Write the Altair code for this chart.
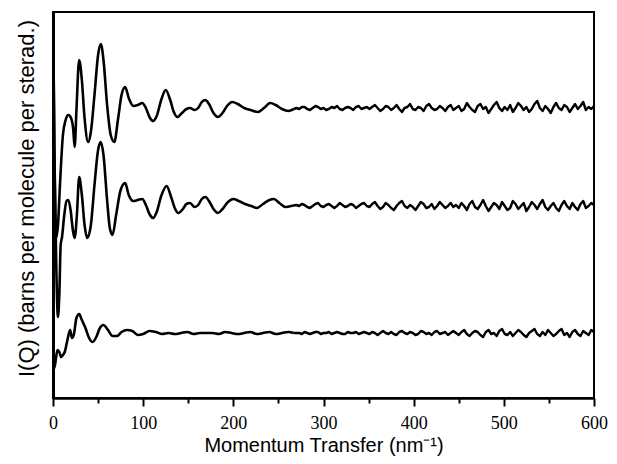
import altair as alt
import pandas as pd

# ---- top curve (smooth part) ----
top_q = [0, 1.5, 3.5, 5.5, 8, 11, 14, 17, 20, 22.5, 24, 26, 29, 32, 35, 39, 42, 46, 50, 53,
         56, 60, 64, 68, 72, 76, 80, 84, 89, 94, 99, 103, 107, 111, 115, 120, 125, 130, 134, 138,
         143, 148, 152, 157, 161, 165, 169, 173, 178, 183, 188, 193, 199, 205, 212, 219, 227, 234, 241, 247,
         254, 261, 267]
top_i = [400, 248, 160, 173, 218, 263, 278, 283, 280, 268, 251, 288, 338, 318, 280, 256, 266, 303, 343, 354,
         338, 293, 263, 256, 278, 303, 311, 300, 292, 293, 295, 290, 281, 277, 282, 298, 308, 298, 286, 281,
         285, 289, 290, 288, 290, 296, 298, 294, 285, 281, 285, 292, 296, 294, 290, 288, 286, 290, 295, 293,
         289, 287, 289]

# ---- middle curve (smooth part) ----
mid_q = [0, 1.5, 3.5, 5.5, 7, 8.5, 10, 12.5, 15, 17, 19.5, 22, 24, 26.5, 29, 32, 35, 38, 42, 46,
         50, 53, 56, 60, 63, 66, 70, 75, 80, 84, 89, 94, 99, 103, 107, 111, 115, 120, 126, 131,
         135, 139, 144, 148, 152, 157, 161, 165, 169, 173, 178, 183, 188, 194, 200, 206, 213, 220, 226, 233,
         240, 245, 251, 258, 264]
mid_i = [400, 248, 138, 81, 103, 153, 161, 183, 197, 198, 188, 168, 160, 183, 221, 203, 173, 160, 173, 213,
         248, 256, 243, 198, 170, 163, 183, 208, 215, 203, 197, 198, 199, 193, 184, 180, 186, 202, 212, 201,
         190, 185, 189, 194, 195, 191, 193, 199, 201, 197, 189, 185, 189, 196, 199, 197, 194, 192, 190, 194,
         198, 199, 195, 191, 192]

# ---- bottom curve (smooth part) ----
bot_q = [0, 1.5, 3, 5, 7, 9, 11, 13, 16, 19, 21, 23, 26, 29, 32, 36, 40, 44, 48, 52,
         56, 61, 66, 71, 76, 82, 88, 94, 100, 107, 114, 121, 128, 135, 142, 149, 156, 163, 170, 177,
         184, 191, 198, 205, 212, 219, 226, 233, 240, 247, 254, 261, 267]
bot_i = [51, 30, 38, 48, 46, 41, 43, 46, 58, 68, 60, 63, 80, 84, 78, 70, 60, 56, 61, 70,
         73, 68, 62, 62, 66, 68, 67, 63, 64, 67, 66, 64, 65, 64, 65, 66, 64, 65, 65, 65,
         64, 66, 65, 64, 65, 66, 64, 65, 66, 64, 65, 66, 65]

# ---- noisy tails, sampled every 3 nm^-1 from 270 to 600 ----
tail_q = list(range(270, 601, 3))
top_tail = [290, 289, 291, 291, 289, 288, 290, 292, 291, 289, 290, 288, 289, 291, 290, 292, 289, 288, 290, 291,
            290, 288, 291, 292, 289, 290, 291,
            289, 291, 293, 290, 287, 289, 292, 291, 288, 290, 293, 289, 286, 290, 291, 294, 289, 288, 291, 290,
            287, 292, 294, 290, 288, 289, 292, 290, 287, 291, 293, 288, 290,
            292, 287, 289, 295, 291, 288, 286, 292, 294, 289, 291, 285, 289, 293, 296, 290, 287, 291, 288, 293,
            286, 290, 295, 292, 288, 291, 286, 289, 294, 297, 290, 287, 292, 289, 285, 291, 295, 290, 288, 293,
            291, 286, 290, 294, 289, 292, 296, 288, 291, 289, 292]
mid_tail = [193, 192, 194, 193, 191, 190, 192, 194, 195, 192, 191, 193, 194, 192, 190, 192, 195, 193, 191, 192,
            194, 193, 190, 192, 194, 195, 192,
            191, 194, 196, 192, 189, 191, 195, 193, 190, 188, 192, 195, 197, 192, 190, 193, 191, 188, 192, 196,
            194, 190, 191, 194, 189, 192, 196, 193, 190, 192, 195, 191, 193,
            190, 195, 192, 188, 194, 197, 191, 189, 193, 198, 192, 187, 191, 195, 193, 189, 196, 192, 188, 190,
            197, 194, 189, 192, 195, 187, 191, 196, 193, 189, 194, 198, 191, 188, 192, 195, 190, 187, 193, 197,
            192, 189, 195, 191, 188, 194, 197, 190, 192, 195, 193]
bot_tail = [65, 65, 64, 66, 65, 64, 65, 66, 66, 64, 65, 65, 66, 64, 65, 66, 65, 64, 64, 66,
            65, 65, 66, 64, 65, 66, 65,
            64, 66, 65, 63, 65, 67, 65, 64, 66, 64, 63, 66, 67, 65, 64, 66, 65, 63, 64, 67,
            66, 64, 65, 63, 66, 67, 64, 65, 66, 63, 65, 67, 65,
            63, 66, 68, 64, 62, 65, 67, 66, 63, 61, 66, 68, 64, 65, 62, 67, 69, 64, 63, 66,
            62, 65, 68, 66, 63, 61, 65, 67, 69, 64, 62, 66, 63, 68, 65, 62, 64, 67, 69, 63,
            65, 61, 66, 68, 64, 62, 67, 65, 63, 68, 66]

smooth_rows, tail_rows = [], []
for name, qs, vs, tail in [("top", top_q, top_i, top_tail),
                           ("middle", mid_q, mid_i, mid_tail),
                           ("bottom", bot_q, bot_i, bot_tail)]:
    for k, (q, v) in enumerate(zip(qs, vs)):
        smooth_rows.append({"series": name, "Q": q, "I": v, "order": k})
    # tail starts from the last point of the smooth part so the line is continuous
    tail_rows.append({"series": name, "Q": qs[-1], "I": vs[-1], "order": 0})
    for k, (q, v) in enumerate(zip(tail_q, tail)):
        tail_rows.append({"series": name, "Q": q, "I": v, "order": k + 1})
smooth_df = pd.DataFrame(smooth_rows)
tail_df = pd.DataFrame(tail_rows)

tick_values = [0, 50, 100, 150, 200, 250, 300, 350, 400, 450, 500, 550, 600]

xscale = alt.Scale(domain=[0, 600], nice=False, zero=False)
yscale = alt.Scale(domain=[0, 386], nice=False, zero=False)

x_axis = alt.Axis(values=tick_values, orient="bottom",
                  labelExpr="datum.value % 100 === 0 ? format(datum.value, 'd') : ''",
                  title="Momentum Transfer (nm⁻¹)",
                  titleFont="Liberation Sans", titleFontSize=20, titleFontWeight="normal",
                  titleColor="black", titlePadding=3,
                  labelFont="Liberation Serif", labelFontSize=18, labelColor="black",
                  labelPadding=8, labelFlush=False, labelOverlap=False,
                  tickSize={"condition": {"test": "datum.value % 100 === 0", "value": 8}, "value": 5},
                  tickWidth=2, tickColor="black",
                  domainColor="black", domainWidth=2.5, grid=False)
y_axis = alt.Axis(title="I(Q) (barns per molecule per sterad.)",
                  titleFont="Liberation Sans", titleFontSize=22, titleFontWeight="normal",
                  titleColor="black", titlePadding=15, titleY=186,
                  labels=False, ticks=False,
                  domainColor="black", domainWidth=3, grid=False)

smooth = alt.Chart(smooth_df).mark_line(color="black", strokeWidth=2.6, clip=True,
                                        interpolate="monotone").encode(
    x=alt.X("Q:Q", scale=xscale, axis=x_axis),
    y=alt.Y("I:Q", scale=yscale, axis=y_axis),
    detail="series:N",
    order="order:Q",
)

tail = alt.Chart(tail_df).mark_line(color="black", strokeWidth=2.4, clip=True,
                                    interpolate="linear", strokeJoin="round").encode(
    x=alt.X("Q:Q", scale=xscale, axis=x_axis),
    y=alt.Y("I:Q", scale=yscale, axis=y_axis),
    detail="series:N",
    order="order:Q",
)

chart = alt.layer(smooth, tail).properties(
    width=541, height=386,
    autosize=alt.AutoSizeParams(type="none"),
    padding={"left": 45, "top": 4, "right": 15, "bottom": 60},
).configure_view(stroke="black", strokeWidth=2)

chart.save("out.html", embed_options={"renderer": "svg", "actions": False})
